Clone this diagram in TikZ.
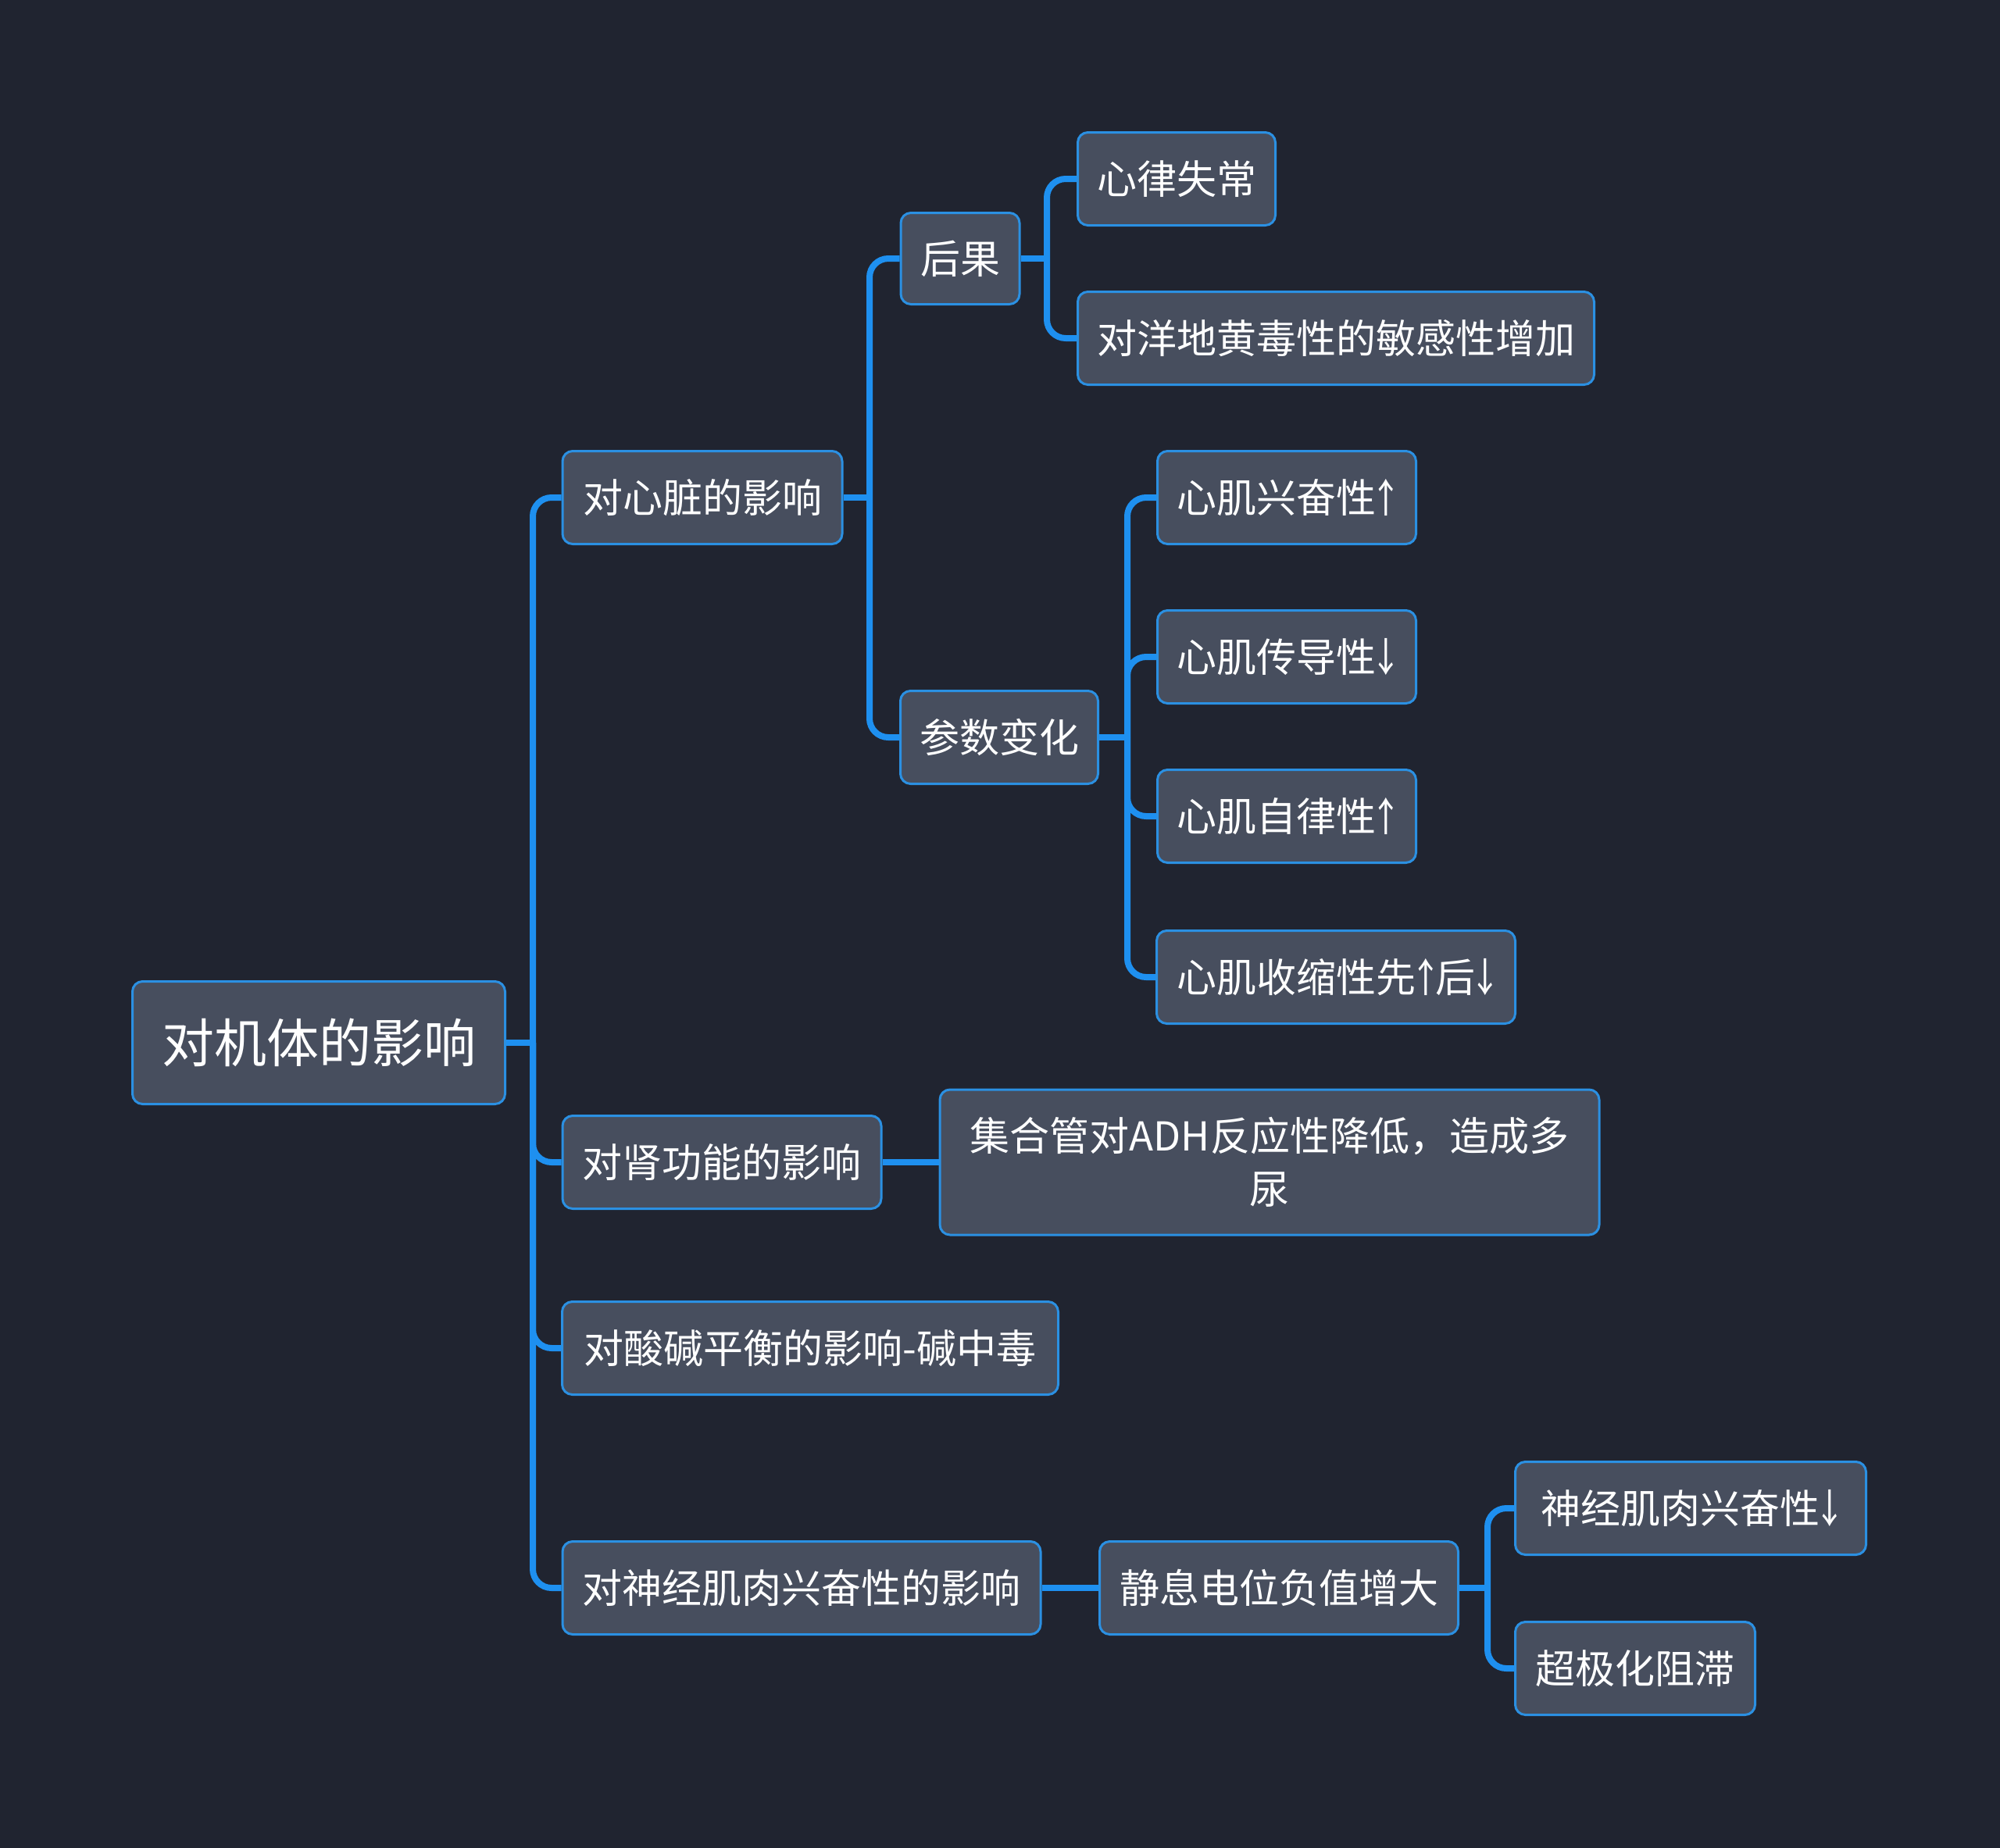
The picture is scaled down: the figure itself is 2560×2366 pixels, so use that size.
\documentclass[tikz,border=0pt]{standalone}
\usepackage{fontspec}
\setmainfont{Noto Sans CJK SC}
\newcommand{\upar}{￪}
\newcommand{\dnar}{￬}
\definecolor{bgc}{RGB}{32,36,48}
\definecolor{nodefill}{RGB}{71,78,94}
\definecolor{nodeborder}{RGB}{43,144,226}
\definecolor{linec}{RGB}{30,144,240}
\tikzset{
  box/.style 2 args={draw=nodeborder, fill=nodefill, line width=1.5pt, rounded corners=6.5pt,
    text=white, font=\fontsize{25.5pt}{34pt}\selectfont, inner sep=0pt, align=center,
    minimum width=#1*0.5pt, minimum height=#2*0.5pt},
  rootbox/.style={box={477}{157}, font=\fontsize{33.5pt}{40pt}\selectfont},
  conn/.style={draw=linec, line width=4pt, rounded corners=12pt},
  connstraight/.style={draw=linec, line width=4pt},
}
\begin{document}
\begin{tikzpicture}[x=0.5pt,y=-0.5pt]
\fill[bgc] (0,0) rectangle (2560,2366);
\useasboundingbox (0,0) rectangle (2560,2366);

% junction coordinates
\coordinate (jroot) at (682,1335);
\coordinate (jheart) at (1113,637);
\coordinate (jresult) at (1340,331);
\coordinate (jparam) at (1443,944);
\coordinate (jrest) at (1904,2033);

\node[rootbox] (root) at (408,1335) {对机体的影响};
\node[box={358}{119}] (heart) at (899,637) {对心脏的影响};
\node[box={152}{117}] (result) at (1229,331) {后果};
\node[box={253}{119}] (arr) at (1506,229) {心律失常};
\node[box={661}{119}] (digi) at (1710,433) {对洋地黄毒性的敏感性增加};
\node[box={253}{119}] (param) at (1279,944) {参数变化};
\node[box={331}{119}] (p1) at (1647,637) {心肌兴奋性\upar};
\node[box={331}{119}] (p2) at (1647,841) {心肌传导性\dnar};
\node[box={331}{119}] (p3) at (1647,1045) {心肌自律性\upar};
\node[box={459}{119}] (p4) at (1710,1251) {心肌收缩性先\upar 后\dnar};
\node[box={408}{119}] (kidney) at (924,1488) {对肾功能的影响};
\node[box={844}{186}] (adh) at (1625,1488) {集合管对ADH反应性降低，造成多\\尿};
\node[box={635}{119}] (acid) at (1037,1726) {对酸碱平衡的影响-碱中毒};
\node[box={612}{119}] (nerve) at (1026,2033) {对神经肌肉兴奋性的影响};
\node[box={459}{119}] (rest) at (1637,2033) {静息电位负值增大};
\node[box={449}{119}] (n1) at (2164,1931) {神经肌肉兴奋性\dnar};
\node[box={307}{119}] (n2) at (2093,2136) {超极化阻滞};

% root
\draw[connstraight] (root.east) -- (jroot);
\foreach \c in {heart,kidney,acid,nerve}
  \draw[conn] (jroot) |- (\c.west);
% heart
\draw[connstraight] (heart.east) -- (jheart);
\foreach \c in {result,param}
  \draw[conn] (jheart) |- (\c.west);
% result
\draw[connstraight] (result.east) -- (jresult);
\foreach \c in {arr,digi}
  \draw[conn] (jresult) |- (\c.west);
% param
\draw[connstraight] (param.east) -- (jparam);
\foreach \c in {p1,p2,p3,p4}
  \draw[conn] (jparam) |- (\c.west);
% kidney
\draw[connstraight] (kidney.east) -- (adh.west);
% nerve
\draw[connstraight] (nerve.east) -- (rest.west);
\draw[connstraight] (rest.east) -- (jrest);
\foreach \c in {n1,n2}
  \draw[conn] (jrest) |- (\c.west);
\end{tikzpicture}
\end{document}
